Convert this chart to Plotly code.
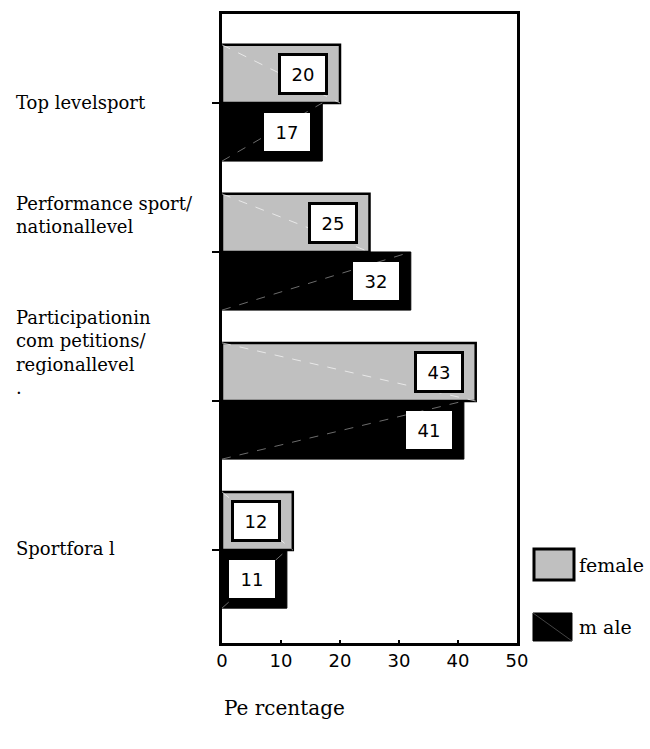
import plotly.graph_objects as go

# Level of sport practised, share of respondents by gender (%)
categories = ["Top levelsport", "Performance sport/<br>nationallevel",
              "Participationin<br>com petitions/<br>regionallevel<br>.",
              "Sportfora l"]
keys = ["top", "perf", "part", "all"]
female = [20, 25, 43, 12]
male = [17, 32, 41, 11]
x_ticks = [0, 10, 20, 30, 40, 50]

LABEL_FONT = "DejaVu Serif"
TICK_FONT = "DejaVu Sans"
BAR_W = 0.39
HALF = BAR_W / 2

fig = go.Figure()
fig.add_trace(go.Bar(
    y=keys, x=female, orientation="h", name="female",
    marker=dict(color="#c0c0c0", line=dict(color="black", width=2.5)),
    width=BAR_W, offset=-BAR_W, showlegend=False,
))
fig.add_trace(go.Bar(
    y=keys, x=male, orientation="h", name="male",
    marker=dict(color="black", line=dict(color="black", width=1)),
    width=BAR_W, offset=0, showlegend=False,
))

shapes = []
annotations = []
for i, (f, m) in enumerate(zip(female, male)):
    # faint diagonals across each bar
    shapes.append(dict(type="line", xref="x", yref="y", x0=0, x1=f,
                       y0=i - BAR_W, y1=i,
                       line=dict(color="rgba(255,255,255,0.8)", width=0.8, dash="dash")))
    shapes.append(dict(type="line", xref="x", yref="y", x0=0, x1=m,
                       y0=i + BAR_W, y1=i,
                       line=dict(color="rgba(170,170,170,0.8)", width=0.8, dash="dash")))
    # value boxes near the bar ends
    annotations.append(dict(
        x=f, y=i - HALF, xref="x", yref="y", xanchor="right", yanchor="middle",
        xshift=-12, text=str(f), showarrow=False,
        font=dict(family=TICK_FONT, size=18, color="black"),
        bgcolor="white", bordercolor="black", borderwidth=3, borderpad=1,
        width=42, height=34,
    ))
    annotations.append(dict(
        x=m, y=i + HALF, xref="x", yref="y", xanchor="right", yanchor="middle",
        xshift=-12, text=str(m), showarrow=False,
        font=dict(family=TICK_FONT, size=18, color="black"),
        bgcolor="white", borderwidth=0, borderpad=1,
        width=44, height=36,
    ))

# category labels, left aligned at the page edge
label_lift = [0, 37, 49, 2]
for i, (txt, lift) in enumerate(zip(categories, label_lift)):
    annotations.append(dict(
        x=-0.705, y=i, xref="paper", yref="y", xanchor="left", yanchor="middle",
        yshift=lift, text=txt, align="left", showarrow=False,
        font=dict(family=LABEL_FONT, size=18, color="black"),
    ))

# legend swatches and texts
shapes.append(dict(type="rect", xref="paper", yref="paper",
                   x0=1.0576, x1=1.1932, y0=0.1002, y1=0.1494,
                   fillcolor="#c0c0c0", line=dict(color="black", width=3)))
shapes.append(dict(type="rect", xref="paper", yref="paper",
                   x0=1.0542, x1=1.1864, y0=0.0032, y1=0.0477,
                   fillcolor="black", line=dict(color="black", width=1)))
shapes.append(dict(type="line", xref="paper", yref="paper",
                   x0=1.0542, x1=1.1864, y0=0.0477, y1=0.0032,
                   line=dict(color="#555555", width=0.8)))
annotations.append(dict(x=1.2034, y=0.124, xref="paper", yref="paper",
                        xanchor="left", yanchor="middle", text="female", showarrow=False,
                        font=dict(family=LABEL_FONT, size=19, color="black")))
annotations.append(dict(x=1.2034, y=0.0254, xref="paper", yref="paper",
                        xanchor="left", yanchor="middle", text="m ale", showarrow=False,
                        font=dict(family=LABEL_FONT, size=19, color="black")))

# axis title
annotations.append(dict(x=0.0, y=-0.1033, xref="paper", yref="paper",
                        xanchor="left", yanchor="middle", text="Pe rcentage", showarrow=False,
                        font=dict(family=LABEL_FONT, size=20, color="black")))

fig.update_layout(
    width=650, height=749,
    margin=dict(l=222, r=133, t=14, b=106),
    paper_bgcolor="white", plot_bgcolor="white",
    barmode="overlay",
    shapes=shapes, annotations=annotations,
    xaxis=dict(range=[0, 50], tickvals=x_ticks, ticks="inside", ticklen=3,
               tickwidth=2, tickcolor="black", showgrid=False, zeroline=False,
               showline=True, linecolor="black", linewidth=2.5, mirror=True,
               tickfont=dict(family=TICK_FONT, size=18, color="black")),
    yaxis=dict(type="category", categoryarray=keys, range=[3.624, -0.597],
               showticklabels=False, ticks="outside", ticklen=7, tickwidth=2,
               tickcolor="black", showgrid=False, zeroline=False,
               showline=True, linecolor="black", linewidth=2.5, mirror=True),
)

fig.write_html("out.html")
